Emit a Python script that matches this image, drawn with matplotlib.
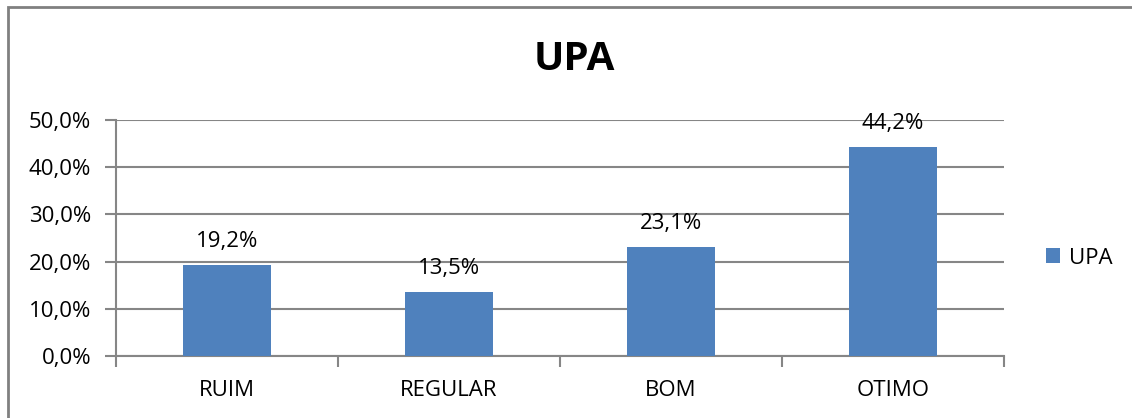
import matplotlib.pyplot as plt
from matplotlib.patches import Rectangle
from matplotlib.ticker import FuncFormatter, MultipleLocator

plt.rcParams['font.family'] = ['Open Sans', 'DejaVu Sans']

categories = ['RUIM', 'REGULAR', 'BOM', 'OTIMO']
values = [19.2, 13.5, 23.1, 44.2]
series_name = 'UPA'

BAR_COLOR = '#4F81BD'
GRID_COLOR = '#868686'
FS = 16

fig = plt.figure(figsize=(11.32, 4.18), dpi=100)
ax = fig.add_axes([116 / 1132, 62 / 418, 888 / 1132, 236 / 418])

x = range(len(categories))
bars = ax.bar(x, values, width=0.4, color=BAR_COLOR, label=series_name, zorder=3)

for xi, v in zip(x, values):
    ax.text(xi, v + 2.8, f'{v:.1f}%'.replace('.', ','), ha='center', va='bottom',
            fontsize=FS)

ax.set_xlim(-0.5, len(categories) - 0.5)
ax.set_ylim(0, 50)
ax.yaxis.set_major_locator(MultipleLocator(10))
ax.yaxis.set_major_formatter(FuncFormatter(lambda v, p: f'{v:.1f}%'.replace('.', ',')))
ax.grid(axis='y', color=GRID_COLOR, linewidth=1.5, zorder=0)

ax.set_xticks(list(x))
ax.set_xticklabels(categories, fontsize=FS)
ax.tick_params(axis='x', length=0, pad=17)
ax.set_xticks([i - 0.5 for i in range(len(categories) + 1)], minor=True)
ax.tick_params(axis='x', which='minor', length=8, width=1.5, color=GRID_COLOR)
ax.tick_params(axis='y', length=8, width=1.5, color=GRID_COLOR, labelsize=FS, pad=10)

for s in ['top', 'right']:
    ax.spines[s].set_visible(False)
for s in ['left', 'bottom']:
    ax.spines[s].set_color(GRID_COLOR)
    ax.spines[s].set_linewidth(1.5)

fig.text(574 / 1132, 1 - 59 / 418, 'UPA', ha='center', va='center',
         fontsize=29, fontweight='bold')

fig.legend(handles=[bars], labels=[series_name], loc='center left',
           bbox_to_anchor=(1026 / 1132, 1 - 258 / 418), frameon=False,
           fontsize=FS, handlelength=0.65, handleheight=0.65, handletextpad=0.4)

# chart frame
fig.patches.append(Rectangle((8 / 1132, -0.1), 1.2, 1 - 7 / 418 + 0.1,
                             transform=fig.transFigure, fill=False,
                             edgecolor='#808080', linewidth=2))

fig.savefig('out.png', dpi=100)
